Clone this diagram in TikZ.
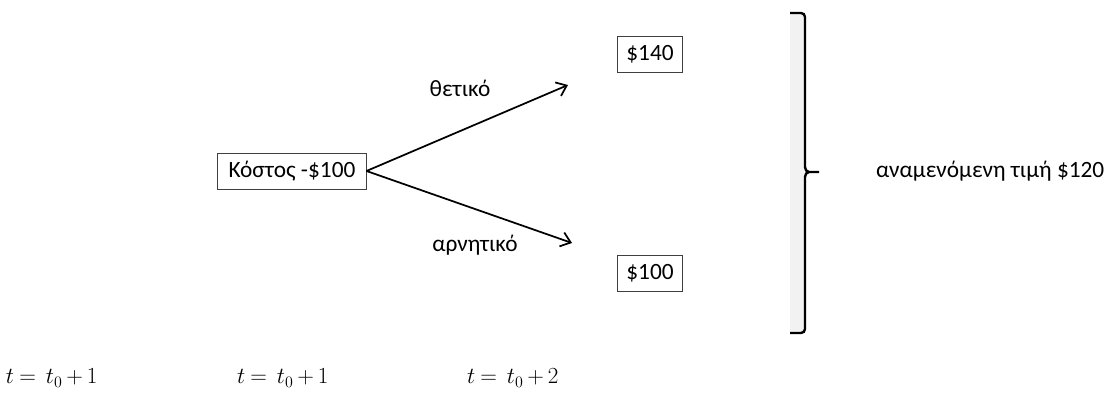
\documentclass[tikz,border=0pt]{standalone}
\usepackage{fontspec}
\setmainfont{Carlito}
\usepackage{tikz}
\usetikzlibrary{positioning,calc,arrows.meta}
\tikzset{pxgrid/.style={x=0.75pt,y=-0.75pt,every node/.style={inner sep=0pt,outer sep=0pt,anchor=center,align=center}}}
\definecolor{dline}{HTML}{000000}
\definecolor{dbox}{HTML}{3F3F3F}
\definecolor{dstrip}{HTML}{F2F2F2}
\newcommand{\tstep}[1]{$\thickmuskip=4mu\relax\medmuskip=3mu\relax t =\ t_0 + #1$}
\tikzset{
  valbox/.style={draw=dbox,line width=0.6pt,fill=white,font=\fontsize{17.5}{21}\selectfont,inner xsep=6.5pt,minimum height=27pt},
  branch/.style={dline,line width=1.3pt,-{Straight Barb[length=7pt,width=11pt,line width=1.3pt]}},
  lbl/.style={font=\fontsize{17.5}{21}\selectfont,text=dline},
  tlbl/.style={font=\fontsize{16.5}{20}\selectfont,anchor=west},
  brace/.style={dline,line width=1.8pt},
}

\begin{document}
\begin{tikzpicture}[pxgrid]
  \useasboundingbox (0,0) rectangle (1107,399);
  % --- κόμβοι δέντρου
  \node[valbox,minimum width=111.75pt] (cost) at (292,171) {Κόστος -\$100};
  \node[valbox] (up) at (650,54) {\$140};
  \node[valbox] (down) at (650,273) {\$100};
  % --- κλάδοι
  \coordinate (upEnd) at (568,85);
  \coordinate (downEnd) at (572,243);
  \draw[branch] (cost.east) -- (upEnd);
  \draw[branch] (cost.east) -- (downEnd);
  \node[lbl] (pos) at (460,88) {θετικό};
  \node[lbl] (neg) at (475,245) {αρνητικό};
  % --- άγκιστρο
  \fill[dstrip] (790,13) rectangle (804,333);
  \draw[brace] (790,13) -- (801,13) to[out=0,in=90] (805,17) -- (805,167)
    to[out=-90,in=180] (809,172) -- (819,172);
  \draw[brace] (809,172) to[out=180,in=90] (805,177) -- (805,329)
    to[out=-90,in=0] (801,333) -- (790,333);
  \node[lbl,anchor=west] (exp) at (876,171) {αναμενόμενη τιμή \$120};
  % --- χρόνοι
  \node[tlbl] (t0) at (6,378) {\tstep{1}};
  \node[tlbl] (t1) at (237,378) {\tstep{1}};
  \node[tlbl] (t2) at (467,378) {\tstep{2}};
\end{tikzpicture}
\end{document}
